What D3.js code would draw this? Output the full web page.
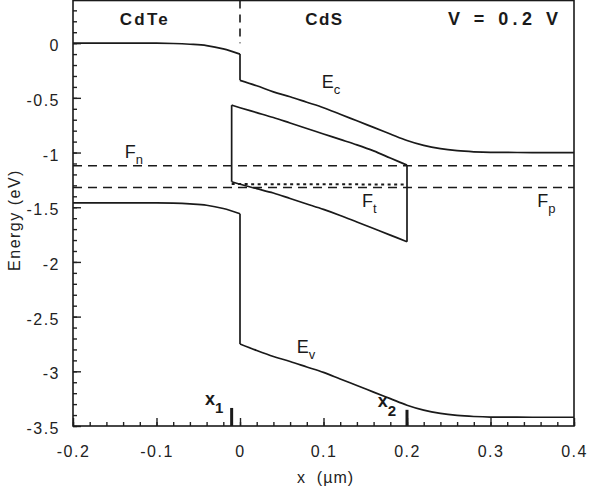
<!DOCTYPE html>
<html>
<head>
<meta charset="utf-8">
<script src="https://cdn.jsdelivr.net/npm/d3@7"></script>
<style>
    body { margin: 0; background: #fff; }
    svg { display: block; font-family: "Liberation Sans", Arial, Helvetica, sans-serif; }
    .axis text { font-size: 16px; letter-spacing: 1.5px; fill: #222; font-family: "Liberation Sans", Arial, sans-serif; }
    .axis line { stroke: #222; stroke-width: 1.4; }
    .band { fill: none; stroke: #1a1a1a; stroke-width: 1.7; }
    .note { fill: #1a1a1a; font-size: 18px; }
</style>
</head>
<body>
<div id="chart"></div>
<script>
// band diagram CdTe / CdS, forward bias V = 0.2 V

// CdTe side (x < 0)
var xCdTe = [-0.2, -0.1, -0.08, -0.06, -0.04, -0.02, 0];
var ecCdTe = [0, 0, -0.003, -0.01, -0.022, -0.052, -0.10];
var evCdTe = [-1.46, -1.46, -1.463, -1.47, -1.482, -1.512, -1.56];

// CdS side (x > 0)
var xCdS = [0, 0.02, 0.04, 0.06, 0.08, 0.1, 0.12, 0.14, 0.16, 0.18, 0.2, 0.22, 0.24, 0.26, 0.28, 0.3, 0.35, 0.4];
var ecCdS = [-0.34, -0.39, -0.445, -0.49, -0.54, -0.59, -0.65, -0.71, -0.77, -0.83, -0.89, -0.935, -0.965, -0.983, -0.993, -0.998, -1.0, -1.0];
var evCdS = [-2.75, -2.81, -2.865, -2.91, -2.96, -3.01, -3.07, -3.13, -3.19, -3.25, -3.31, -3.355, -3.385, -3.403, -3.413, -3.418, -3.42, -3.42];

// trap region between x1 and x2
var xTrap = [-0.01, 0, 0.02, 0.04, 0.06, 0.08, 0.1, 0.12, 0.14, 0.16, 0.18, 0.2];
var trapTop = [-0.567, -0.59, -0.635, -0.68, -0.73, -0.78, -0.83, -0.88, -0.93, -0.985, -1.05, -1.115];
var trapBottom = [-1.267, -1.29, -1.33, -1.37, -1.42, -1.47, -1.52, -1.575, -1.635, -1.695, -1.755, -1.815];
var ftLevel = [-1.288, -1.288, -1.289, -1.289, -1.29, -1.29, -1.29, -1.291, -1.291, -1.292, -1.292, -1.292];

// quasi Fermi levels
var xFermi = [-0.2, 0.4];
var fnLevel = [-1.12, -1.12];
var fpLevel = [-1.32, -1.32];

var x1 = -0.01, x2 = 0.2;

var xTicks = [-0.2, -0.1, 0, 0.1, 0.2, 0.3, 0.4];
var yTicks = [0, -0.5, -1, -1.5, -2, -2.5, -3, -3.5];

var W = 590, H = 489;

var svg = d3.select('#chart')
    .append('svg')
    .attr('width', W)
    .attr('height', H)
    ;

var x = d3.scaleLinear().domain([-0.2, 0.4]).range([73, 574]);
var y = d3.scaleLinear().domain([-3.5, 0.39]).range([426, 0.5]);

// plain hyphen for negatives, like the original
var fmt = function(d) { return String(d); };

// minor ticks
var xMinor = d3.range(-0.2, 0.401, 0.02).map(function(v) { return +v.toFixed(2); });
var yMinor = d3.range(-3.5, 0.4, 0.1).map(function(v) { return +v.toFixed(1); });

svg.append('g')
    .attr('class', 'axis')
    .attr('transform', 'translate(0,' + y(-3.5) + ')')
    .call(d3.axisBottom(x).tickValues(xMinor).tickSize(-4).tickSizeOuter(0).tickFormat(''))
    .call(function(g) { g.select('.domain').remove(); })
    ;
svg.append('g')
    .attr('class', 'axis')
    .attr('transform', 'translate(0,' + y(-3.5) + ')')
    .call(d3.axisBottom(x).tickValues(xTicks).tickSize(-8).tickSizeOuter(0).tickPadding(20).tickFormat(fmt))
    .call(function(g) { g.select('.domain').remove(); })
    ;
svg.append('g')
    .attr('class', 'axis')
    .attr('transform', 'translate(' + x(-0.2) + ',0)')
    .call(d3.axisLeft(y).tickValues(yMinor).tickSize(-4).tickSizeOuter(0).tickFormat(''))
    .call(function(g) { g.select('.domain').remove(); })
    ;
svg.append('g')
    .attr('class', 'axis')
    .attr('transform', 'translate(' + x(-0.2) + ',0)')
    .call(d3.axisLeft(y).tickValues(yTicks).tickSize(-8).tickSizeOuter(0).tickPadding(13).tickFormat(fmt))
    .call(function(g) {
        g.select('.domain').remove();
        g.selectAll('text').attr('dy', '0.48em');
    })
    ;

// frame
svg.append('rect')
    .attr('x', x(-0.2))
    .attr('y', y(0.39))
    .attr('width', x(0.4) - x(-0.2))
    .attr('height', y(-3.5) - y(0.39))
    .style('fill', 'none')
    .style('stroke', '#1a1a1a')
    .style('stroke-width', 1.6)
    ;

var smooth = d3.line()
    .x(function(d) { return x(d[0]); })
    .y(function(d) { return y(d[1]); })
    .curve(d3.curveMonotoneX);
var straight = d3.line()
    .x(function(d) { return x(d[0]); })
    .y(function(d) { return y(d[1]); });

function pairs(xs, ys) {
    return xs.map(function(v, i) { return [v, ys[i]]; });
}

var plot = svg.append('g');

// Ec and Ev with the step at the interface
[[ecCdTe, ecCdS], [evCdTe, evCdS]].forEach(function(b) {
    plot.append('path').attr('class', 'band').attr('d', smooth(pairs(xCdTe, b[0])));
    plot.append('path').attr('class', 'band').attr('d', smooth(pairs(xCdS, b[1])));
    plot.append('path').attr('class', 'band')
        .attr('d', straight([[0, b[0][b[0].length - 1]], [0, b[1][0]]]));
});

// trap box
plot.append('path').attr('class', 'band').attr('d', smooth(pairs(xTrap, trapTop)));
plot.append('path').attr('class', 'band').attr('d', smooth(pairs(xTrap, trapBottom)));
plot.append('path').attr('class', 'band')
    .attr('d', straight([[x1, trapTop[0]], [x1, trapBottom[0]]]));
plot.append('path').attr('class', 'band')
    .attr('d', straight([[x2, trapTop[trapTop.length - 1]], [x2, trapBottom[trapBottom.length - 1]]]));

// Ft dotted
plot.append('path').attr('class', 'band')
    .attr('d', smooth(pairs(xTrap, ftLevel)))
    .style('stroke-width', 2)
    .style('stroke-dasharray', '3,3.5')
    ;

// Fn, Fp dashed
[fnLevel, fpLevel].forEach(function(lv) {
    plot.append('path').attr('class', 'band')
        .attr('d', straight(pairs(xFermi, lv)))
        .style('stroke-width', 1.5)
        .style('stroke-dasharray', '9,6')
        ;
});

// interface dashed marker
plot.append('path').attr('class', 'band')
    .attr('d', straight([[0, 0.39], [0, 0.0]]))
    .style('stroke-width', 1.6)
    .style('stroke-dasharray', '8,6')
    ;

// x1 / x2 markers on the axis
[[x1, -3.335], [x2, -3.352]].forEach(function(m) {
    plot.append('path').attr('class', 'band')
        .attr('d', straight([[m[0], -3.5], [m[0], m[1]]]))
        .style('stroke-width', 3)
        ;
});

// labels
function note(xv, yv, main, sub, opts) {
    opts = opts || {};
    var t = svg.append('text')
        .attr('class', 'note')
        .attr('x', x(xv))
        .attr('y', y(yv))
        .style('font-weight', opts.bold ? 'bold' : 'normal')
        .style('font-size', (opts.size || 18) + 'px')
        ;
    t.append('tspan').text(main);
    if (sub) {
        t.append('tspan')
            .attr('dy', opts.subDy || 6)
            .style('font-size', (opts.subSize || 13) + 'px')
            .text(sub);
    }
    return t;
}

note(0.098, -0.41, 'E', 'c');
note(0.068, -2.833, 'E', 'v');
note(-0.138, -1.051, 'F', 'n');
note(0.146, -1.499, 'F', 't');
note(0.356, -1.499, 'F', 'p');
note(-0.042, -3.308, 'x', '1', { bold: true, subSize: 15, subDy: 8 });
note(0.165, -3.327, 'x', '2', { bold: true, subSize: 15, subDy: 9 });

svg.append('text').attr('class', 'note')
    .attr('x', x(-0.144)).attr('y', y(0.163))
    .attr('textLength', 48).attr('lengthAdjust', 'spacing')
    .style('font-weight', 'bold').style('font-size', '17px')
    .text('CdTe');
svg.append('text').attr('class', 'note')
    .attr('x', x(0.078)).attr('y', y(0.163))
    .attr('textLength', 37).attr('lengthAdjust', 'spacing')
    .style('font-weight', 'bold').style('font-size', '17px')
    .text('CdS');
svg.append('text').attr('class', 'note')
    .attr('x', x(0.249)).attr('y', y(0.163))
    .attr('textLength', 110).attr('lengthAdjust', 'spacing')
    .style('font-weight', 'bold').style('font-size', '18px')
    .style('white-space', 'pre')
    .text('V = 0.2 V');

// axis titles
svg.append('text')
    .attr('x', x(0.1) + 2)
    .attr('y', 483)
    .attr('text-anchor', 'middle')
    .style('font-size', '16px')
    .style('letter-spacing', '1px')
    .style('white-space', 'pre')
    .style('fill', '#222')
    .text('x  (\u00b5m)');

svg.append('text')
    .attr('transform', 'translate(20,220) rotate(-90)')
    .attr('text-anchor', 'middle')
    .style('font-size', '16px')
    .style('letter-spacing', '1.5px')
    .style('fill', '#222')
    .text('Energy (eV)');
</script>
</body>
</html>
